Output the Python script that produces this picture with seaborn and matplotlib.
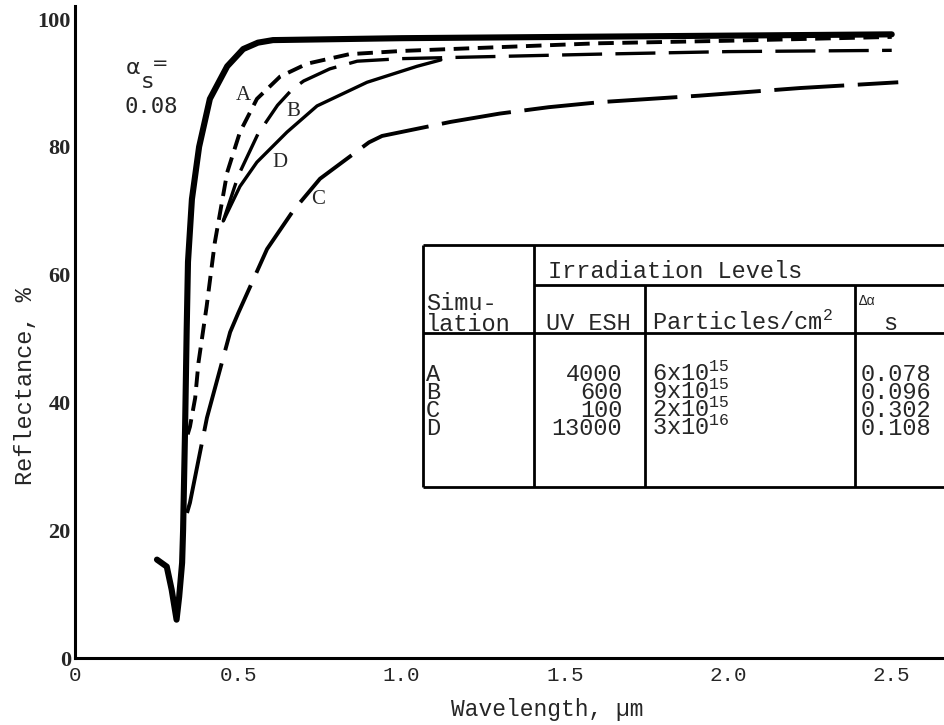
# reflectance.py
# Spectral reflectance after UV + particle irradiation (scanned figure redraw)

import matplotlib.pyplot as plt
import seaborn as sns
import pandas as pd
from matplotlib.font_manager import FontProperties

# --- DATA ---
# reference (unirradiated) curve, alpha_s = 0.08
ref_wl = [0.251, 0.281, 0.296, 0.311, 0.319, 0.328, 0.331, 0.337, 0.342, 0.346,
          0.358, 0.38, 0.413, 0.466, 0.515, 0.56, 0.606, 1.0, 1.5, 2.0, 2.5]
ref_r = [15.4, 14.3, 10.7, 6.0, 9.6, 14.9, 20.0, 35.7, 51.4, 62.0,
         71.8, 80.0, 87.5, 92.6, 95.3, 96.3, 96.7, 97.0, 97.2, 97.4, 97.6]

a_wl = [0.345, 0.352, 0.368, 0.378, 0.403, 0.428, 0.466, 0.505, 0.557, 0.628,
        0.71, 0.84, 1.0, 1.6, 2.0, 2.5]
a_r = [35.0, 36.2, 40.7, 46.2, 55.0, 65.0, 76.0, 82.3, 87.5, 91.0,
       93.0, 94.5, 95.0, 96.2, 96.6, 97.2]

b_wl = [0.454, 0.50, 0.56, 0.62, 0.665, 0.70, 0.78, 0.864, 1.0, 1.6, 2.0, 2.5]
b_r = [68.4, 75.5, 82.0, 86.5, 89.0, 90.3, 92.2, 93.4, 93.8, 94.5, 94.9, 95.1]

c_wl = [0.343, 0.352, 0.404, 0.475, 0.50, 0.588, 0.668, 0.75, 0.90, 0.94,
        1.15, 1.3, 1.45, 1.61, 1.91, 2.22, 2.52]
c_r = [22.7, 24.3, 37.6, 51.0, 54.0, 64.0, 70.0, 75.0, 80.7, 81.7,
       83.9, 85.2, 86.2, 87.0, 88.0, 89.2, 90.1]

d_wl = [0.454, 0.505, 0.557, 0.649, 0.741, 0.894, 1.047, 1.12]
d_r = [68.4, 73.8, 77.6, 82.3, 86.4, 90.1, 92.6, 93.6]

# table contents
sim_names = ["A", "B", "C", "D"]
uv_esh = [4000, 600, 100, 13000]
part_mant = [6, 9, 2, 3]
part_exp = [15, 15, 15, 16]
delta_alpha = [0.078, 0.096, 0.302, 0.108]

x_ticks = [0, 0.5, 1.0, 1.5, 2.0, 2.5]
x_ticklabels = ["0", "0.5", "1.0", "1.5", "2.0", "2.5"]
y_ticks = [0, 20, 40, 60, 80, 100]

frames = []
for name, wl, r in [("ref", ref_wl, ref_r), ("A", a_wl, a_r), ("B", b_wl, b_r),
                    ("C", c_wl, c_r), ("D", d_wl, d_r)]:
    frames.append(pd.DataFrame({"wavelength": wl, "reflectance": r, "curve": name}))
df = pd.concat(frames, ignore_index=True)

# --- STYLE ---
sns.set_style("white")
plt.rcParams["font.family"] = ["Liberation Mono", "DejaVu Sans"]
plt.rcParams["mathtext.fontset"] = "custom"
plt.rcParams["mathtext.rm"] = "Liberation Mono"
plt.rcParams["mathtext.it"] = "Liberation Mono"

fig = plt.figure(figsize=(9.44, 7.25), dpi=100)
ax = fig.add_axes([0.0794, 0.0924, 0.9206, 0.899])

sns.lineplot(
    data=df, x="wavelength", y="reflectance",
    hue="curve", style="curve", size="curve",
    palette={k: "black" for k in ["ref", "A", "B", "C", "D"]},
    dashes={"ref": "", "A": (4, 2.2), "B": (12, 4), "C": (18, 3.5), "D": ""},
    sizes={"ref": 4.4, "A": 2.8, "B": 2.4, "C": 2.8, "D": 2.4},
    sort=False, estimator=None, legend=False, ax=ax,
)

ax.set_xlim(0, 2.66)
ax.set_ylim(0, 102)
ax.set_xticks(x_ticks)
ax.set_xticklabels(x_ticklabels, fontsize=15)
ax.set_yticks(y_ticks)
ax.set_yticklabels([str(v) for v in y_ticks], fontsize=16,
                   family=["Liberation Serif"], fontweight="bold")
ax.tick_params(direction="in", length=14, width=2, color="black")
ax.tick_params(axis="x", pad=6)
ax.tick_params(axis="y", pad=3)
for s in ["top", "right"]:
    ax.spines[s].set_visible(False)
for s in ["left", "bottom"]:
    ax.spines[s].set_linewidth(2.2)
    ax.spines[s].set_color("black")

ax.set_xlabel("Wavelength, \u00b5m", fontsize=16.5)
ax.set_ylabel("Reflectance, %", fontsize=17)
ax.xaxis.set_label_coords(0.544, -0.061)
ax.yaxis.set_label_coords(-0.044, 0.417)

# curve labels
for lab, (lx, ly) in {"A": (0.515, 88), "B": (0.668, 85.6),
                      "D": (0.628, 77.6), "C": (0.744, 71.8)}.items():
    ax.text(lx, ly, lab, fontsize=15, family=["Liberation Serif"],
            ha="center", va="center")

ax.text(0.179, 92.4, "\u03b1", fontsize=16, family=["DejaVu Sans"], ha="center", va="center")
ax.text(0.222, 90.2, "s", fontsize=16, family=["DejaVu Sans"], ha="center", va="center")
ax.text(0.26, 93.0, "=", fontsize=14, family=["DejaVu Sans"], ha="center", va="center")
ax.text(0.153, 86.2, "0.08", fontsize=16, family=["DejaVu Sans Mono"], ha="left", va="center")

# --- TABLE ---
t_left, t_right = 1.065, 2.66
v1, v2, v3 = 1.405, 1.745, 2.389
t_top, t_mid, t_head, t_bot = 64.7, 58.4, 50.9, 26.8
ax.add_patch(plt.Rectangle((t_left, t_bot), t_right - t_left, t_top - t_bot,
                           facecolor="white", edgecolor="none", zorder=3))
line_kw = dict(color="black", lw=2.0, zorder=4, solid_capstyle="butt")
ax.plot([t_left, t_right], [t_top, t_top], **line_kw)
ax.plot([t_left, t_right], [t_bot, t_bot], **line_kw)
ax.plot([t_left, t_right], [t_head, t_head], **line_kw)
ax.plot([v1, t_right], [t_mid, t_mid], **line_kw)
ax.plot([t_left, t_left], [t_bot, t_top], **line_kw)
ax.plot([v1, v1], [t_bot, t_top], **line_kw)
ax.plot([v2, v2], [t_bot, t_mid], **line_kw)
ax.plot([v3, v3], [t_bot, t_mid], **line_kw)

fs = 17
renderer = fig.canvas.get_renderer()
px_per_unit = ax.transData.transform((0, 1))[1] - ax.transData.transform((0, 0))[1]


def text_column(x, base_first, step, rows, ha="left"):
    """one multi-line text per column; rows spaced `step` data units apart"""
    prop = FontProperties(family="Liberation Mono", size=fs)
    _, lp_h, lp_d = renderer.get_text_width_height_descent("lp", prop, ismath=False)
    ismath = "$" in rows[0]
    _, h, d = renderer.get_text_width_height_descent(rows[0], prop, ismath=ismath)
    h, d = max(h, lp_h), max(d, lp_d)
    ls = (step * px_per_unit - d) / (h - d)
    top = base_first + (h - d) / px_per_unit
    ax.text(x, top, "\n".join(rows), ha=ha, va="top", fontsize=fs,
            linespacing=ls, zorder=5)


tk = dict(fontsize=fs, va="baseline", zorder=5)
ax.text(1.447, 59.4, "Irradiation Levels", ha="left", **tk)
text_column(1.075, 54.4, 3.25, ["Simu-", "lation"])
ax.text(1.442, 51.3, "UV ESH", ha="left", **tk)
ax.text(1.766, 51.3, "Particles/cm$^{\\mathrm{2}}$", ha="left", **tk)
ax.text(2.398, 55.3, "\u0394\u03b1", ha="left", fontsize=10, va="baseline", zorder=5)
ax.text(2.474, 51.3, "s", ha="left", **tk)

row_base = 43.4
row_step = 2.83
text_column(1.075, row_base, row_step, sim_names)
text_column(1.675, row_base, row_step, [str(v) for v in uv_esh], ha="right")
text_column(1.766, row_base, row_step,
            ["%dx10$^{\\mathrm{%d}}$" % (m, e) for m, e in zip(part_mant, part_exp)])
text_column(2.404, row_base, row_step, ["%.3f" % v for v in delta_alpha])

fig.savefig("out.png", dpi=100)
